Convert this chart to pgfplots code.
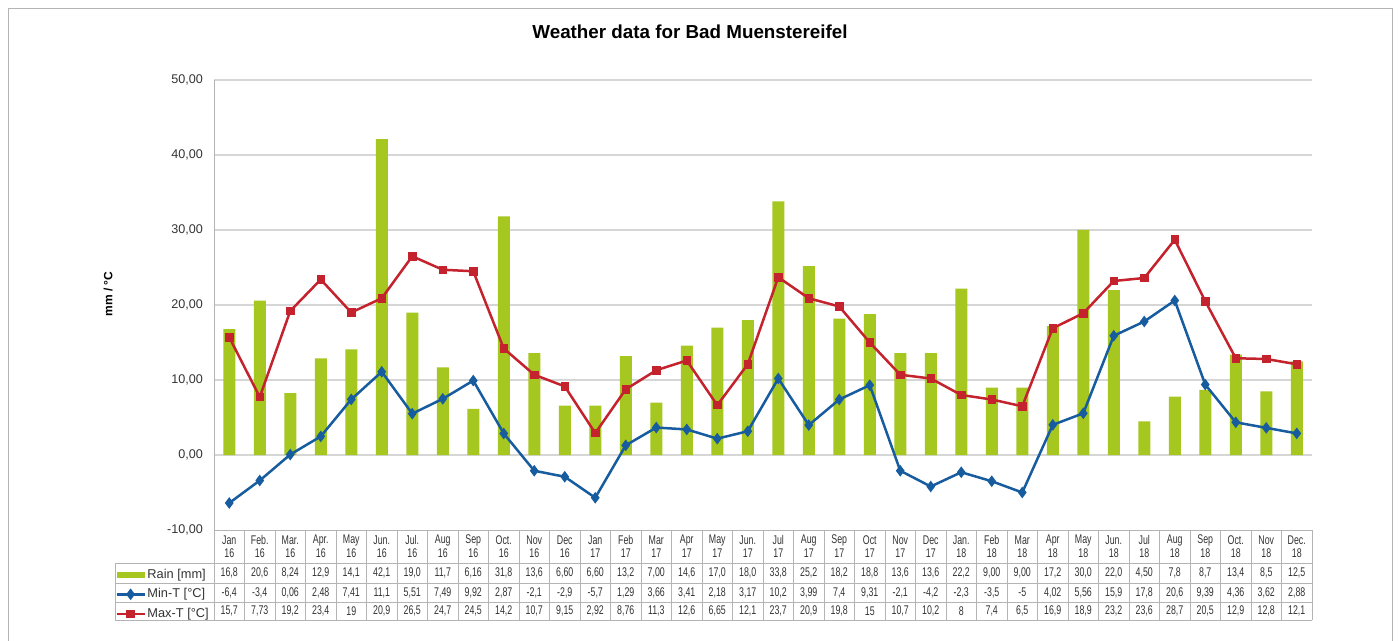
\documentclass[border=0pt]{standalone}
\usepackage{pgfplots}
\pgfplotsset{compat=1.18}
\usepackage{pgfplotstable}
\usepackage{xstring}
\usepackage{fontspec}
\setmainfont{Liberation Sans}
\newfontfamily\cellfont{Liberation Sans}[FakeStretch=0.7]

\definecolor{rainc}{RGB}{166,198,32}
\definecolor{minc}{RGB}{22,92,158}
\definecolor{maxc}{RGB}{196,34,44}
\definecolor{gridc}{RGB}{214,214,214}
\definecolor{linec}{RGB}{180,180,180}

% monthly values, as they stand in the data table of the chart
\pgfplotstableread{
i  mon  yr rain mint maxt
0  Jan  16 16.8 -6.4 15.7
1  Feb. 16 20.6 -3.4 7.73
2  Mar. 16 8.24 0.06 19.2
3  Apr. 16 12.9 2.48 23.4
4  May  16 14.1 7.41 19
5  Jun. 16 42.1 11.1 20.9
6  Jul. 16 19.0 5.51 26.5
7  Aug  16 11.7 7.49 24.7
8  Sep  16 6.16 9.92 24.5
9  Oct. 16 31.8 2.87 14.2
10 Nov  16 13.6 -2.1 10.7
11 Dec  16 6.60 -2.9 9.15
12 Jan  17 6.60 -5.7 2.92
13 Feb  17 13.2 1.29 8.76
14 Mar  17 7.00 3.66 11.3
15 Apr  17 14.6 3.41 12.6
16 May  17 17.0 2.18 6.65
17 Jun. 17 18.0 3.17 12.1
18 Jul  17 33.8 10.2 23.7
19 Aug  17 25.2 3.99 20.9
20 Sep  17 18.2 7.4 19.8
21 Oct  17 18.8 9.31 15
22 Nov  17 13.6 -2.1 10.7
23 Dec  17 13.6 -4.2 10.2
24 Jan. 18 22.2 -2.3 8
25 Feb  18 9.00 -3.5 7.4
26 Mar  18 9.00 -5 6.5
27 Apr  18 17.2 4.02 16.9
28 May  18 30.0 5.56 18.9
29 Jun. 18 22.0 15.9 23.2
30 Jul  18 4.50 17.8 23.6
31 Aug  18 7.8 20.6 28.7
32 Sep  18 8.7 9.39 20.5
33 Oct. 18 13.4 4.36 12.9
34 Nov  18 8.5 3.62 12.8
35 Dec. 18 12.5 2.88 12.1
}\weather

\begin{document}
\begin{tikzpicture}
\path[use as bounding box] (0pt,0pt) rectangle (700pt,-320.5pt);

\begin{axis}[
    at={(107pt,-265pt)}, anchor=south west,
    scale only axis, width=549pt, height=225pt,
    xmin=-0.5, xmax=35.5, ymin=-10, ymax=50,
    xtick=\empty,
    ytick={0,10,...,50},
    extra y ticks={-10},
    extra y tick style={grid=none},
    major tick length=0pt,
    yticklabel style={font=\fontsize{6.3}{7}\selectfont, xshift=-2pt,
        text=black!80,
        /pgf/number format/.cd, fixed, fixed zerofill, precision=2,
        use comma, assume math mode=true},
    ymajorgrids,
    major grid style={gridc, line width=1.3pt},
    axis lines=left,
    axis line style={linec, line width=0.5pt, -},
    title={Weather data for Bad Muenstereifel},
    title style={at={(axis description cs:0.4335,1.08)}, anchor=center,
        font=\bfseries\fontsize{9.4}{11}\selectfont},
    ylabel={mm / °C},
    every axis y label/.style={at={(axis description cs:-0.0965,0.524)},
        rotate=90, anchor=center, font=\bfseries\fontsize{6}{7}\selectfont},
    legend image code/.code={\draw[mark repeat=2,mark phase=2,#1]
        plot coordinates {(0pt,0pt) (7pt,0pt) (14pt,0pt)};},
    legend style={at={(axis description cs:-0.0902,-0.0822)}, anchor=north west,
        draw=none, fill=none, inner sep=0pt, row sep=2.35pt,
        font=\fontsize{6.4}{7}\selectfont, text=black!80,
        nodes={inner sep=0.8pt, text height=4.6pt, text depth=1.2pt}},
    legend cell align=left,
]
\addplot[ybar, bar width=6pt, bar shift=0pt, fill=rainc, draw=none,
    legend image code/.code={\fill[rainc] (0pt,-1.5pt) rectangle (14pt,1.5pt);}]
    table[x=i, y=rain]{\weather};
\addplot[minc, line width=1.25pt, mark=diamond*, mark size=1.9pt]
    table[x=i, y=mint]{\weather};
\addplot[maxc, line width=1.25pt, mark=square*, mark size=1.5pt]
    table[x=i, y=maxt]{\weather};
\legend{Rain [mm], Min-T [°C], Max-T [°C]}
\end{axis}

% frame and data table, in pixel units of the original
\begin{scope}[x=0.5pt, y=-0.5pt]
\draw[linec, line width=0.5pt] (8,645) -- (8,9) -- (1392,9) -- (1392,645);
\draw[linec, line width=0.5pt]
    (115,563) -- (1312,563) (115,583) -- (1312,583)
    (115,602) -- (1312,602) (115,620) -- (1312,620)
    (115,563) -- (115,620);
\foreach \k in {0,...,36}
    \draw[linec, line width=0.5pt] ({214+\k*30.5},530) -- ({214+\k*30.5},620);
\foreach \k in {0,...,35}{
    \pgfmathsetmacro\cx{214+(\k+0.5)*30.5}
    \pgfplotstablegetelem{\k}{mon}\of\weather \let\tm\pgfplotsretval
    \pgfplotstablegetelem{\k}{yr}\of\weather \let\ty\pgfplotsretval
    \pgfplotstablegetelem{\k}{rain}\of\weather \let\ta\pgfplotsretval
    \pgfplotstablegetelem{\k}{mint}\of\weather \let\tb\pgfplotsretval
    \pgfplotstablegetelem{\k}{maxt}\of\weather \let\tc\pgfplotsretval
    \begin{scope}[every node/.style={inner sep=0pt, text=black!80,
        font=\cellfont\fontsize{6.3}{6.5}\selectfont}]
    \node at (\cx,540) {\tm};
    \node at (\cx,553) {\ty};
    \node at (\cx,573) {\StrSubstitute{\ta}{.}{,}};
    \node at (\cx,592.5) {\StrSubstitute{\tb}{.}{,}};
    \node at (\cx,611) {\StrSubstitute{\tc}{.}{,}};
    \end{scope}
}
\end{scope}
\end{tikzpicture}
\end{document}
